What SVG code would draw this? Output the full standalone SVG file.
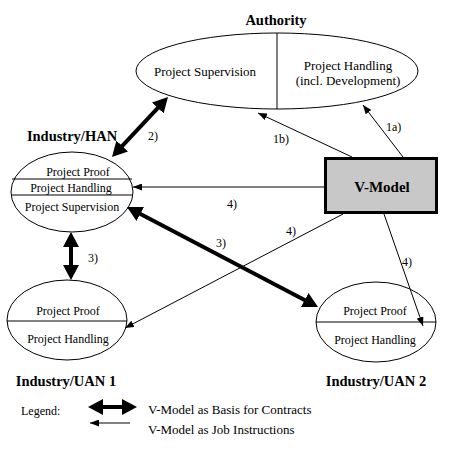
<svg xmlns="http://www.w3.org/2000/svg" width="460" height="450" viewBox="0 0 460 450">
<defs>
<style>
text{font-family:"Liberation Serif","Times New Roman",serif;fill:#000}
.t{font-size:12px}
.ta{font-size:13px}
.b{font-size:14.5px;font-weight:bold}
.n{fill:#fff;stroke:#000;stroke-width:1}
.d{stroke:#000;stroke-width:1}
.thick{stroke:#000;stroke-width:4;fill:none;marker-start:url(#hb);marker-end:url(#hb)}
.thin{stroke:#000;stroke-width:1;fill:none;marker-end:url(#hs)}
</style>
<marker id="hb" viewBox="0 0 15 16" markerWidth="15" markerHeight="16" refX="3" refY="8" markerUnits="userSpaceOnUse" orient="auto-start-reverse">
<path d="M0,0 L15,8 L0,16 z" fill="#000"/>
</marker>
<marker id="hs" viewBox="0 0 9 7" markerWidth="9" markerHeight="7" refX="9" refY="3.5" markerUnits="userSpaceOnUse" orient="auto">
<path d="M0,0 L9,3.5 L0,7 z" fill="#000"/>
</marker>
</defs>
<rect width="460" height="450" fill="#fff"/>

<g id="authority">
<text class="b" x="276" y="25" text-anchor="middle">Authority</text>
<ellipse class="n" cx="277" cy="71" rx="141" ry="38"/>
<line class="d" x1="277" y1="33" x2="277" y2="109"/>
<text class="ta" x="205" y="76" text-anchor="middle">Project Supervision</text>
<text class="ta" x="348" y="70" text-anchor="middle">Project Handling</text>
<text class="ta" x="348" y="85" text-anchor="middle">(incl. Development)</text>
</g>

<g id="industry-han">
<text class="b" x="72" y="141" text-anchor="middle">Industry/HAN</text>
<ellipse class="n" cx="72" cy="192" rx="61" ry="40"/>
<line class="d" x1="12" y1="179" x2="132" y2="179"/>
<line class="d" x1="12" y1="195" x2="132" y2="195"/>
<text class="t" x="78" y="176" text-anchor="middle">Project Proof</text>
<text class="t" x="71" y="192" text-anchor="middle">Project Handling</text>
<text class="t" x="72" y="211" text-anchor="middle">Project Supervision</text>
</g>

<g id="vmodel">
<rect x="325.5" y="158.5" width="111" height="54" fill="#c8c8c8" stroke="#000" stroke-width="3"/>
<text x="382" y="192" text-anchor="middle" style="font-size:15px;font-weight:bold">V-Model</text>
</g>

<g id="industry-uan1">
<ellipse class="n" cx="67" cy="320" rx="60" ry="40"/>
<line class="d" x1="7" y1="321" x2="127" y2="321"/>
<text class="t" x="68" y="315" text-anchor="middle">Project Proof</text>
<text class="t" x="68" y="343" text-anchor="middle">Project Handling</text>
<text class="b" x="66" y="386" text-anchor="middle">Industry/UAN 1</text>
</g>

<g id="industry-uan2">
<ellipse class="n" cx="376" cy="322" rx="60" ry="40"/>
<line class="d" x1="316" y1="322" x2="436" y2="322"/>
<text class="t" x="375" y="315" text-anchor="middle">Project Proof</text>
<text class="t" x="375" y="344" text-anchor="middle">Project Handling</text>
<text class="b" x="376" y="386" text-anchor="middle">Industry/UAN 2</text>
</g>

<g id="connectors">
<line class="thick" x1="120.2" y1="148.2" x2="159.8" y2="105.8"/>
<line class="thick" x1="71" y1="244" x2="71" y2="268"/>
<line class="thick" x1="137.6" y1="212.6" x2="307.4" y2="301.4"/>
<line class="thin" x1="352" y1="157" x2="258" y2="113"/>
<line class="thin" x1="403" y1="157" x2="363" y2="105"/>
<line class="thin" x1="324" y1="187" x2="133" y2="187"/>
<line class="thin" x1="343" y1="214" x2="125" y2="328"/>
<line class="thin" x1="384" y1="214" x2="423" y2="326"/>
<text class="t" x="148" y="140">2)</text>
<text class="t" x="273" y="143">1b)</text>
<text class="t" x="386" y="131">1a)</text>
<text class="t" x="227" y="208">4)</text>
<text class="t" x="286" y="235">4)</text>
<text class="t" x="402" y="266">4)</text>
<text class="t" x="88" y="262">3)</text>
<text class="t" x="216" y="247">3)</text>
</g>

<g id="legend">
<text class="t" x="21" y="415">Legend:</text>
<line class="thick" x1="100" y1="407" x2="125" y2="407"/>
<line class="thin" x1="130" y1="423" x2="90" y2="423"/>
<text class="ta" x="148" y="414">V-Model as Basis for Contracts</text>
<text class="ta" x="148" y="434">V-Model as Job Instructions</text>
</g>
</svg>
